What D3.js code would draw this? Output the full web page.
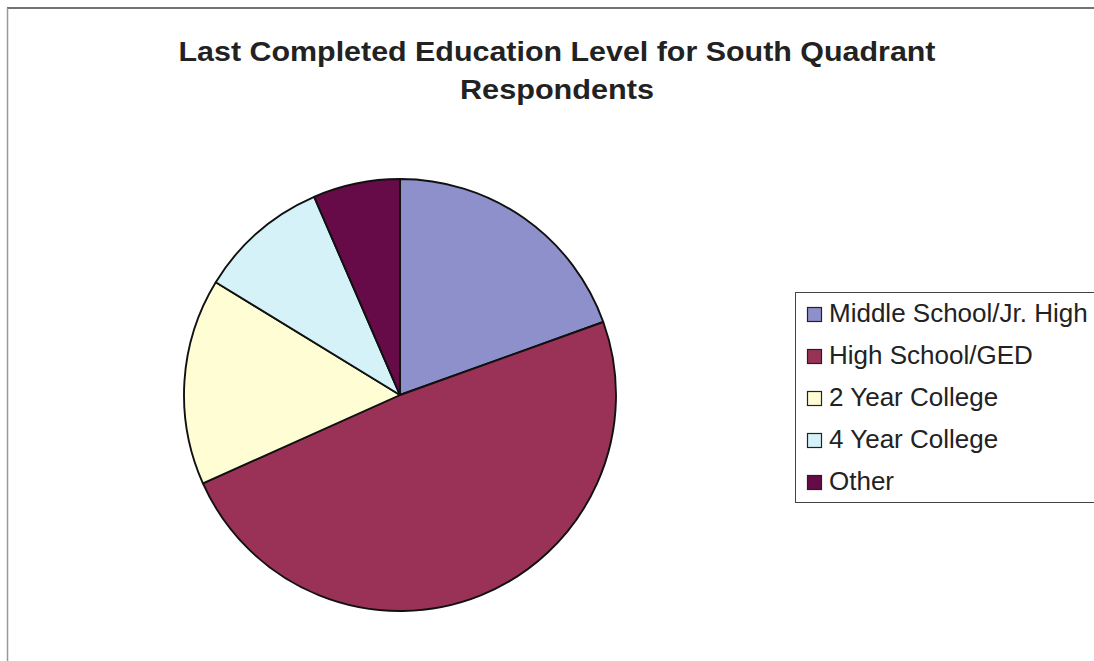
<!DOCTYPE html>
<html>
<head>
<meta charset="utf-8">
<script src="https://cdn.jsdelivr.net/npm/d3@7"></script>
<style>
  html, body { margin: 0; padding: 0; background: #fff; }
  svg { display: block; }
</style>
</head>
<body>
<svg id="chart" width="1094" height="661"></svg>
<script>
// Education level categories and respondent counts
const categories = ["Middle School/Jr. High", "High School/GED", "2 Year College", "4 Year College", "Other"];
const counts = [24, 60, 19, 12, 8];
const colors = ["#8e90cc", "#9a3157", "#fffdd3", "#d4f2f8", "#660a48"];
const titleLines = ["Last Completed Education Level for South Quadrant", "Respondents"];

const svg = d3.select("#chart");
const W = 1094, H = 661;
const FONT = "Liberation Sans, Arial, sans-serif";

// Chart area frame (top and left edges)
svg.append("line").attr("x1", 7).attr("y1", 8).attr("x2", W).attr("y2", 8)
  .attr("stroke", "#444").attr("stroke-width", 1.5);
svg.append("line").attr("x1", 7.5).attr("y1", 8).attr("x2", 7.5).attr("y2", H)
  .attr("stroke", "#999").attr("stroke-width", 1.5);

// Title: wide bold lettering
const titleWidths = [757, 194];
svg.append("g").selectAll("text").data(titleLines).join("text")
  .attr("x", 557)
  .attr("y", (d, i) => 61 + i * 38)
  .attr("text-anchor", "middle")
  .attr("font-family", FONT)
  .attr("font-weight", "bold")
  .attr("font-size", 27)
  .attr("fill", "#222")
  .attr("textLength", (d, i) => titleWidths[i])
  .attr("lengthAdjust", "spacingAndGlyphs")
  .text(d => d);

// Pie
const cx = 400, cy = 395, r = 216;
const pie = d3.pie().sort(null).value(d => d)(counts);
const arc = d3.arc().innerRadius(0).outerRadius(r);
const color = d3.scaleOrdinal().domain(categories).range(colors);

svg.append("g").attr("transform", `translate(${cx},${cy})`)
  .selectAll("path").data(pie).join("path")
  .attr("d", arc)
  .attr("fill", (d, i) => color(categories[i]))
  .attr("stroke", "#111")
  .attr("stroke-width", 1.9)
  .attr("stroke-linejoin", "round");

// Legend
const legend = svg.append("g");
legend.append("rect")
  .attr("x", 795.5).attr("y", 292.5).attr("width", 310).attr("height", 210)
  .attr("fill", "#fff").attr("stroke", "#444").attr("stroke-width", 1);

const rowY = d3.scalePoint().domain(categories).range([322, 490]);
const rows = legend.selectAll("g.row").data(categories).join("g").attr("class", "row");
rows.append("rect")
  .attr("x", 807.5).attr("y", d => rowY(d) - 14.5)
  .attr("width", 14).attr("height", 14)
  .attr("fill", d => color(d))
  .attr("stroke", "#222").attr("stroke-width", 1.2);
const labels = rows.append("text")
  .attr("x", 829).attr("y", d => rowY(d))
  .attr("font-family", FONT)
  .attr("font-size", 25)
  .attr("fill", "#222")
  .text(d => d);
labels.each(function () {
  const w = this.getComputedTextLength();
  d3.select(this).attr("textLength", w * 1.04).attr("lengthAdjust", "spacingAndGlyphs");
});
</script>
</body>
</html>
